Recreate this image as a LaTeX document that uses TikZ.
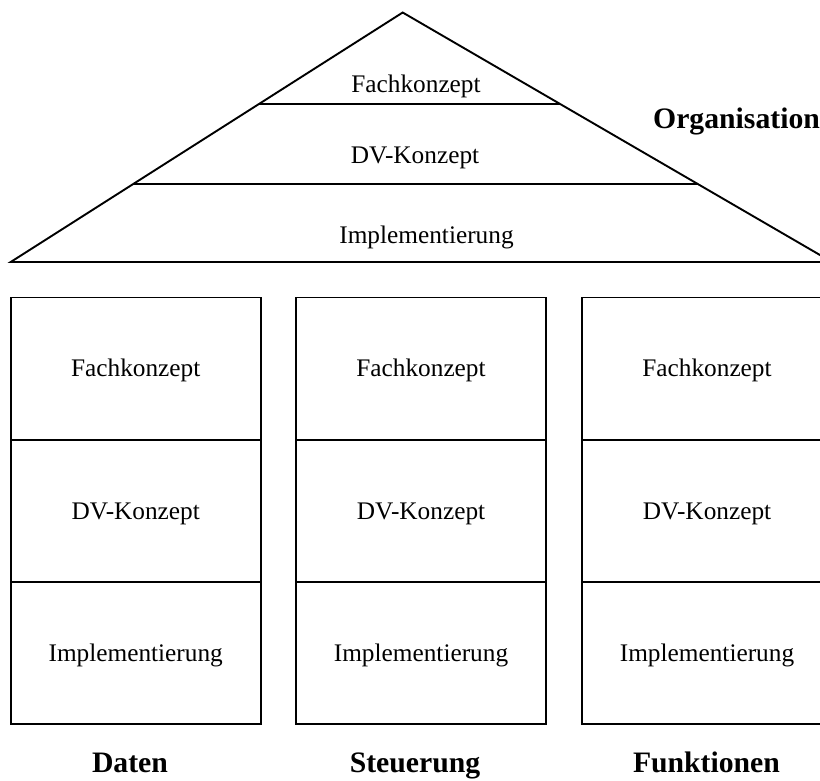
\documentclass[tikz,border=0pt]{standalone}
\usepackage{fontspec}
\setmainfont{Liberation Serif}
\usetikzlibrary{calc}

\tikzset{
  frame/.style={line width=1.9pt, line join=miter},
  cell/.style={draw, line width=1.9pt, minimum width=250pt, minimum height=142.2pt,
    inner sep=0pt, text height=16.75pt, text depth=0pt,
    font=\fontsize{25.3}{30}\selectfont},
  rowtext/.style={anchor=base, inner sep=0pt, font=\fontsize{25.3}{30}\selectfont},
  viewlabel/.style={anchor=base, inner sep=0pt, font=\fontsize{29.7}{35}\selectfont\bfseries},
}

\begin{document}
\begin{tikzpicture}[x=1pt, y=-1pt]
  \useasboundingbox (0,0) rectangle (820,780);
  \clip (0,0) rectangle (820,780);

  % roof: organisation view with its three levels
  \coordinate (apex) at (402.7,12.5);
  \coordinate (roofL) at (10.7,262);
  \coordinate (roofR) at (832,262);
  \draw[frame] (roofL) -- (apex) -- (roofR) -- cycle;
  \coordinate (r1L) at ($(roofL)!0.6326!(apex)$);
  \coordinate (r1R) at ($(roofR)!0.6326!(apex)$);
  \coordinate (r2L) at ($(roofL)!0.3129!(apex)$);
  \coordinate (r2R) at ($(roofR)!0.3129!(apex)$);
  \draw[frame] (r1L) -- (r1R);
  \draw[frame] (r2L) -- (r2R);
  \node[rowtext] (oFK) at (416,92) {Fachkonzept};
  \node[rowtext] (oDV) at (415,163) {DV-Konzept};
  \node[rowtext] (oIM) at (426.5,243) {Implementierung};
  \node[viewlabel, anchor=base west] (org) at (653,128) {Organisation};

  % three pillars: Daten, Steuerung, Funktionen
  \foreach \id/\cx/\lx/\name in {d/135.7/130/Daten, s/421/415/Steuerung, f/707/706.5/Funktionen}{
    \node[cell] (\id FK) at (\cx,368.6) {Fachkonzept};
    \node[cell] (\id DV) at (\cx,510.8) {DV-Konzept};
    \node[cell] (\id IM) at (\cx,653.0) {Implementierung};
    \node[viewlabel] (\id L) at (\lx,772) {\name};
  }
\end{tikzpicture}
\end{document}
